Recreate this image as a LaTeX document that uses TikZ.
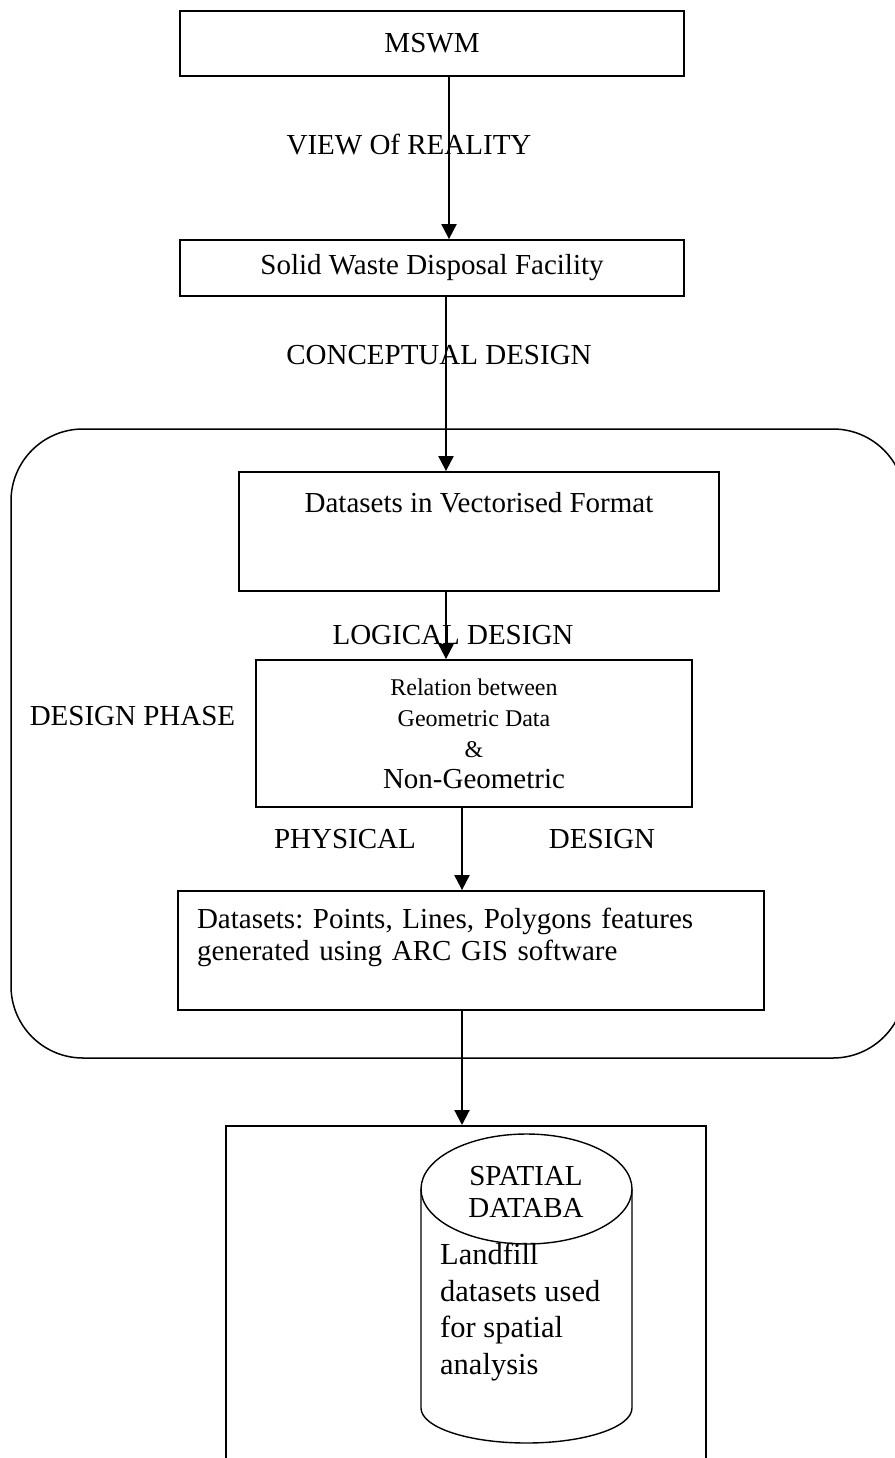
\documentclass[tikz,border=0pt]{standalone}
\usepackage{fontspec}
\setmainfont{Liberation Serif}
\usepackage{tikz}
\usetikzlibrary{positioning}
\usetikzlibrary{arrows.meta,shapes}
\usetikzlibrary{calc}
\frenchspacing

\tikzset{
	stage/.style={draw, line width=1.8pt, inner sep=0pt},
	flow/.style={line width=2pt, -{Triangle[length=15pt,width=15pt]}},
	lbl/.style={inner sep=0pt}
}

\begin{document}
\begin{tikzpicture}[x=1pt,y=-1pt, font=\fontsize{29}{32}\selectfont]
\useasboundingbox (0,0) rectangle (894,1458);

% design phase frame
\node[draw, line width=1.5pt, rounded corners=72pt, minimum width=894pt, minimum height=629pt] (phase) at (458,743.5) {};
\node[lbl] (phaselbl) at (132.5,716) {DESIGN PHASE};

% boxes
\node[stage, minimum width=504pt, minimum height=65pt] (mswm) at (432,43.5) {MSWM};
\node[stage, minimum width=504pt, minimum height=56pt] (swdf) at (432,268) {Solid Waste Disposal Facility};
\node[stage, minimum width=480pt, minimum height=119pt, text depth=59pt] (vect) at (479,531.5) {Datasets in Vectorised Format};
\node[stage, minimum width=436pt, minimum height=147pt, align=center, font=\fontsize{24}{31}\selectfont] (rel) at (474,733.5)
	{Relation between\\Geometric Data\\\&\\{\fontsize{29}{31}\selectfont Non-Geometric}};
\node[stage, minimum width=586pt, minimum height=119pt, text width=548pt, inner xsep=19pt, align=left, text depth=65pt] (pts) at (471,950.5)
	{Datasets: Points, Lines, Polygons features\\generated using ARC GIS software};
\node[stage, minimum width=480pt, minimum height=360pt, anchor=north] (store) at (466,1125) {};

% database cylinder
\draw[line width=1.4pt] (421,1189) -- (421,1408) arc[start angle=180, end angle=360, x radius=105.5pt, y radius=35pt] -- (632,1189);
\draw[line width=1.4pt] (526.5,1189) ellipse [x radius=105.5pt, y radius=55pt];
\node[lbl, align=center] (dbtitle) at (526,1191.5) {SPATIAL\\DATABA};
\node[lbl, align=left, anchor=north west, font=\fontsize{30.5}{36.5}\selectfont] (dbtext) at (440,1243) {Landfill\\datasets used\\for spatial\\analysis};

% arrows
\draw[flow] ([xshift=17pt]mswm.south) -- ([xshift=17pt]swdf.north);
\draw[flow] ([xshift=14pt]swdf.south) -- ([xshift=-33pt]vect.north);
\draw[flow] ([xshift=-33pt]vect.south) -- ([xshift=-28pt]rel.north);
\draw[flow] ([xshift=-12pt]rel.south) -- ([xshift=-9pt]pts.north);
\draw[flow] ([xshift=-9pt]pts.south) -- ([xshift=-4pt]store.north);

% labels
\node[lbl] (view) at (409,145) {VIEW Of REALITY};
\node[lbl] (concept) at (439,355) {CONCEPTUAL DESIGN};
\node[lbl] (logic) at (453,635) {LOGICAL DESIGN};
\node[lbl] (phys) at (345,839) {PHYSICAL};
\node[lbl] (physdes) at (602,839) {DESIGN};

\end{tikzpicture}
\end{document}
